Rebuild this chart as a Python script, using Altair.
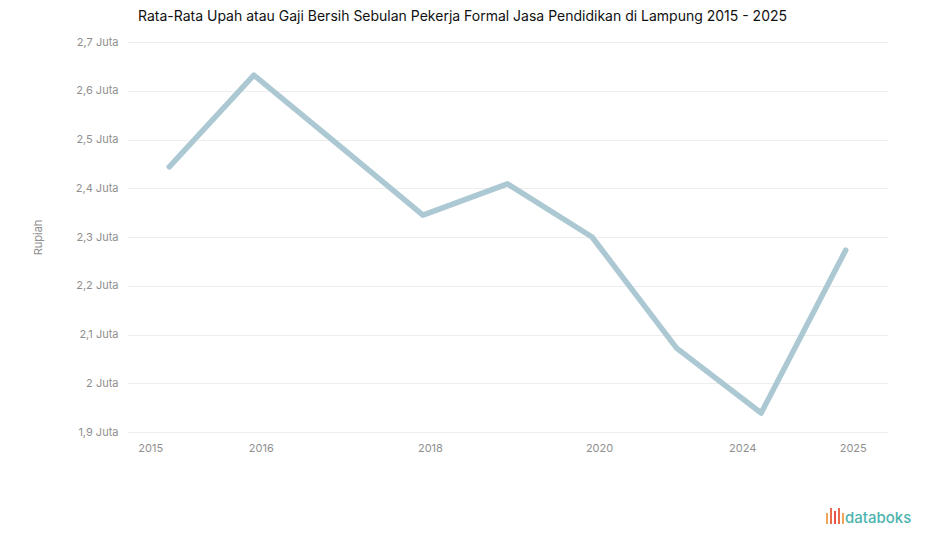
import altair as alt
import pandas as pd

# Data
tahun = ["2015", "2016", "2017", "2018", "2019", "2020", "2021", "2024", "2025"]
upah = [2444000, 2632000, 2489000, 2345000, 2409000, 2300000, 2072000, 1939000, 2273000]
label_tampil = ["2015", "2016", "2018", "2020", "2024", "2025"]
y_ticks = [1900000, 2000000, 2100000, 2200000, 2300000, 2400000, 2500000, 2600000, 2700000]

df = pd.DataFrame({"Tahun": tahun, "Upah": upah})

judul = "Rata-Rata Upah atau Gaji Bersih Sebulan Pekerja Formal Jasa Pendidikan di Lampung 2015 - 2025"

shown = "[" + ",".join("'" + t + "'" for t in label_tampil) + "]"

x_enc = alt.X(
    "Tahun:O",
    sort=tahun,
    scale=alt.Scale(type="point", padding=0.5),
    axis=alt.Axis(
        title=None,
        labelAngle=0,
        labelExpr=f"indexof({shown}, datum.label) >= 0 ? datum.label : ''",
        labelFont="Inter",
        labelFontSize=11,
        labelColor="#8f8f8f",
        labelPadding=10,
        ticks=False,
        domain=False,
        grid=False,
        labelOffset={"condition": {"test": "datum.label == '2015' || datum.label == '2024'", "value": -19}, "value": 7},
    ),
)

y_enc = alt.Y(
    "Upah:Q",
    scale=alt.Scale(domain=[1900000, 2700000], nice=False, zero=False),
    axis=alt.Axis(
        title="Rupiah",
        values=y_ticks,
        labelExpr="replace(format(datum.value / 1000000, '.1~f'), '.', ',') + ' Juta'",
        labelFont="Inter",
        labelFontSize=11,
        labelColor="#8f8f8f",
        labelPadding=9,
        titleFont="Inter",
        titleFontSize=11,
        titleFontWeight="normal",
        titleColor="#8f8f8f",
        titlePadding=32,
        ticks=False,
        domain=False,
        grid=True,
        gridColor="#ededed",
        gridWidth=1,
    ),
)

line = alt.Chart(df).mark_line(
    color="#abc8d3", strokeWidth=5.5, strokeCap="round", strokeJoin="round"
).encode(x=x_enc, y=y_enc)

logo_df = pd.DataFrame({"t": ["databoks"]})
logo = alt.Chart(logo_df).mark_text(
    font="Inter", fontSize=15, fontWeight=500, color="#4db3ae", align="left", baseline="middle"
).encode(text="t:N", x=alt.value(718), y=alt.value(476))

# small bar icon of the logo
icon_x = [700, 704, 708, 712, 716]
icon_top = [471, 466, 469, 466, 471]
icon_col = ["#f0a55a", "#ec6a4c", "#e8504b", "#ec6a4c", "#f0a55a"]
icons = [
    alt.Chart(logo_df).mark_rule(strokeWidth=2, color=c).encode(
        x=alt.value(xx), y=alt.value(tt), y2=alt.value(482)
    )
    for xx, tt, c in zip(icon_x, icon_top, icon_col)
]

chart = (
    alt.layer(line, logo, *icons)
    .properties(
        width=761,
        height=390,
        background="white",
        title=alt.TitleParams(
            judul, font="Inter", fontSize=14, fontWeight="normal", color="#111111",
            anchor="middle", offset=12, dx=-45,
        ),
        autosize=alt.AutoSizeParams(type="none"),
        padding={"left": 119, "top": 34, "right": 25, "bottom": 100},
    )
    .configure_view(stroke=None, strokeWidth=0)
)

chart.save("out.html", embed_options={"renderer": "svg", "actions": False})
